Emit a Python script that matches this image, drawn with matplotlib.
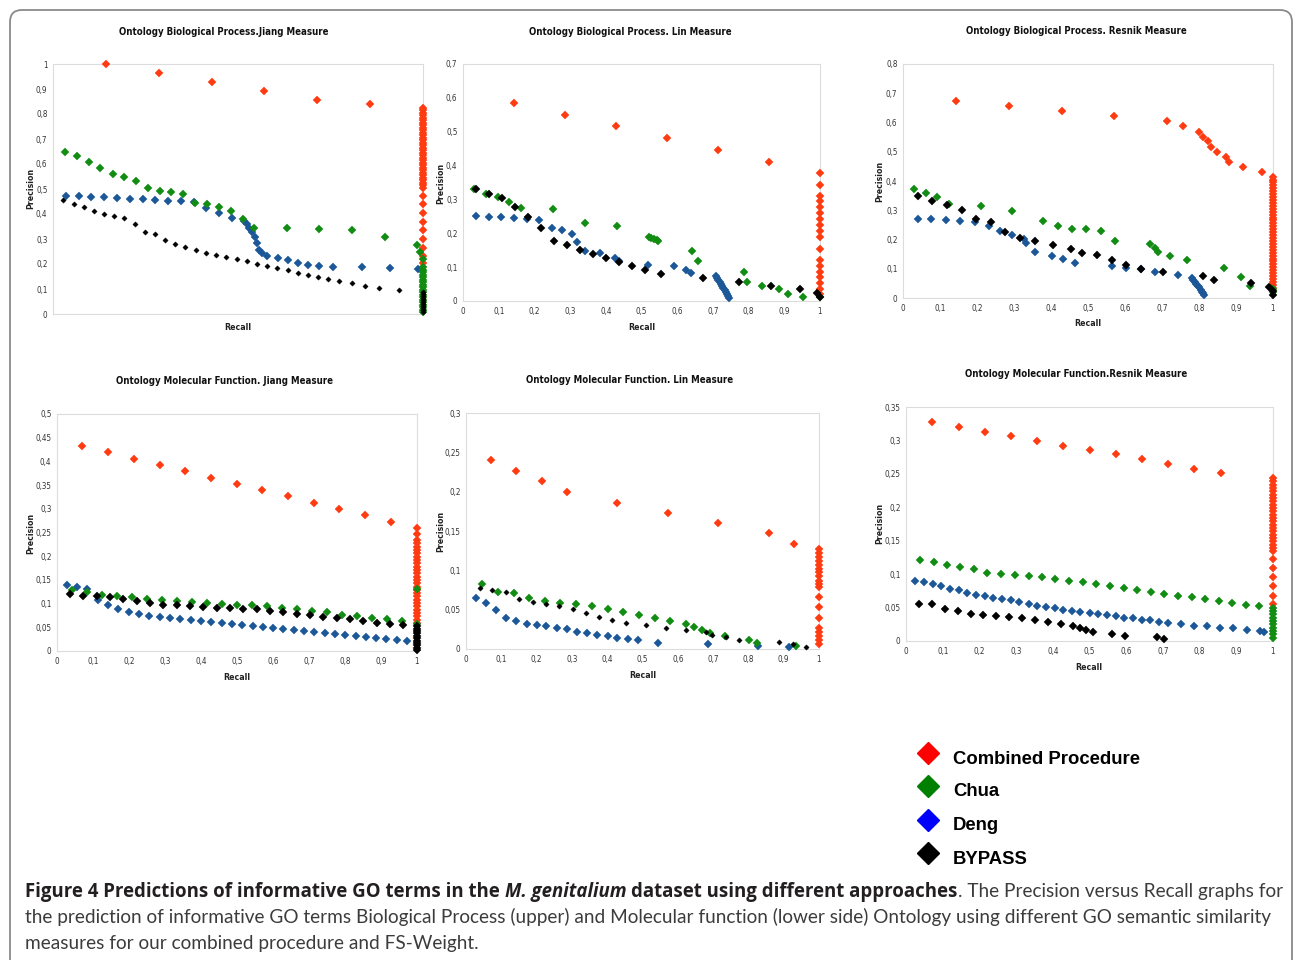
import matplotlib
matplotlib.use("Agg")
import matplotlib.pyplot as plt
import numpy as np
from matplotlib import font_manager as fm
from matplotlib.patches import FancyBboxPatch
from matplotlib.transforms import IdentityTransform
from matplotlib.ticker import FuncFormatter
from matplotlib.font_manager import FontProperties

# ---------------- DATA ----------------
# Biological Process - Jiang
bpj_comb_r = [0.143, 0.287, 0.429, 0.571, 0.714, 0.857]
bpj_comb_p = [1.000, 0.964, 0.928, 0.893, 0.858, 0.841]
bpj_comb_col = [0.825, 0.815, 0.805, 0.795, 0.785, 0.775, 0.765, 0.755, 0.745, 0.735, 0.725, 0.715,
                0.705, 0.695, 0.685, 0.675, 0.665, 0.655, 0.645, 0.635, 0.625, 0.615, 0.605, 0.595,
                0.585, 0.575, 0.565, 0.555, 0.545, 0.535, 0.525, 0.515, 0.505, 0.473, 0.440, 0.405,
                0.370, 0.335, 0.300, 0.265, 0.232, 0.205]
bpj_chua_r = [0.032, 0.064, 0.097, 0.128, 0.161, 0.192, 0.225, 0.256, 0.288, 0.320, 0.352, 0.384,
              0.416, 0.448, 0.480, 0.513, 0.544, 0.632, 0.720, 0.808, 0.896, 0.983, 0.993]
bpj_chua_p = [0.647, 0.634, 0.608, 0.584, 0.559, 0.548, 0.531, 0.504, 0.493, 0.487, 0.481, 0.445,
              0.441, 0.429, 0.414, 0.380, 0.346, 0.344, 0.341, 0.338, 0.307, 0.278, 0.249]
bpj_chua_col = [0.219, 0.188, 0.178, 0.168, 0.158, 0.148, 0.138, 0.128, 0.118, 0.108, 0.098, 0.088,
                0.078, 0.068, 0.058, 0.048, 0.038, 0.028, 0.018, 0.010]
bpj_deng_r = [0.035, 0.069, 0.104, 0.139, 0.173, 0.208, 0.242, 0.276, 0.311, 0.346, 0.380, 0.414,
              0.449, 0.483, 0.516, 0.523, 0.531, 0.538, 0.545, 0.552, 0.558, 0.565, 0.579, 0.607,
              0.634, 0.662, 0.690, 0.718, 0.758, 0.834, 0.910, 0.986]
bpj_deng_p = [0.473, 0.471, 0.468, 0.467, 0.464, 0.461, 0.459, 0.456, 0.453, 0.451, 0.448, 0.425,
              0.406, 0.386, 0.372, 0.360, 0.346, 0.330, 0.309, 0.285, 0.258, 0.246, 0.233, 0.225,
              0.215, 0.206, 0.195, 0.191, 0.190, 0.187, 0.184, 0.182]
bpj_deng_col = []
bpj_byp_r = [0.028, 0.056, 0.083, 0.111, 0.138, 0.166, 0.193, 0.221, 0.248, 0.276, 0.303, 0.331,
             0.358, 0.386, 0.413, 0.441, 0.468, 0.496, 0.523, 0.551, 0.579, 0.606, 0.634, 0.662,
             0.689, 0.717, 0.744, 0.772, 0.807, 0.844, 0.881, 0.936]
bpj_byp_p = [0.455, 0.441, 0.428, 0.413, 0.400, 0.393, 0.386, 0.361, 0.329, 0.320, 0.298, 0.282,
             0.269, 0.258, 0.246, 0.237, 0.227, 0.219, 0.211, 0.202, 0.193, 0.183, 0.175, 0.166,
             0.156, 0.148, 0.139, 0.131, 0.123, 0.114, 0.106, 0.096]
bpj_byp_col = [0.090, 0.082, 0.074, 0.066, 0.058, 0.050, 0.042, 0.034, 0.026, 0.018, 0.010]

# Biological Process - Lin
bpl_comb_r = [0.143, 0.286, 0.429, 0.572, 0.715, 0.858]
bpl_comb_p = [0.585, 0.550, 0.516, 0.481, 0.447, 0.412]
bpl_comb_col = [0.378, 0.343, 0.310, 0.294, 0.277, 0.260, 0.242, 0.225, 0.207, 0.188, 0.154, 0.121,
                0.104, 0.087, 0.070, 0.052, 0.035, 0.020]
bpl_chua_r = [0.032, 0.064, 0.097, 0.130, 0.163, 0.252, 0.341, 0.431, 0.521, 0.528, 0.536, 0.543,
              0.547, 0.642, 0.659, 0.788, 0.796, 0.837, 0.886, 0.910, 0.951]
bpl_chua_p = [0.330, 0.315, 0.308, 0.291, 0.276, 0.273, 0.229, 0.222, 0.188, 0.186, 0.184, 0.181,
              0.178, 0.149, 0.118, 0.086, 0.055, 0.044, 0.034, 0.021, 0.011]
bpl_chua_col = [0.012]
bpl_deng_r = [0.036, 0.072, 0.107, 0.143, 0.179, 0.212, 0.249, 0.277, 0.306, 0.320, 0.341, 0.383,
              0.427, 0.437, 0.519, 0.590, 0.624, 0.640, 0.708, 0.712, 0.715, 0.719, 0.722, 0.726,
              0.729, 0.733, 0.736, 0.740, 0.743, 0.746]
bpl_deng_p = [0.252, 0.249, 0.247, 0.245, 0.242, 0.240, 0.216, 0.211, 0.199, 0.175, 0.148, 0.143,
              0.128, 0.117, 0.107, 0.103, 0.093, 0.083, 0.074, 0.068, 0.062, 0.056, 0.051, 0.045,
              0.039, 0.033, 0.027, 0.021, 0.016, 0.010]
bpl_deng_col = []
bpl_byp_r = [0.036, 0.072, 0.109, 0.146, 0.182, 0.219, 0.255, 0.291, 0.328, 0.364, 0.401, 0.438,
             0.473, 0.509, 0.555, 0.673, 0.773, 0.864, 0.945, 0.991]
bpl_byp_p = [0.332, 0.317, 0.303, 0.277, 0.247, 0.216, 0.178, 0.164, 0.152, 0.139, 0.127, 0.115,
             0.104, 0.092, 0.081, 0.069, 0.057, 0.045, 0.034, 0.023]
bpl_byp_col = [0.013]

# Biological Process - Resnik
bpr_comb_r = [0.143, 0.286, 0.429, 0.571, 0.714, 0.757, 0.800, 0.812, 0.824, 0.833, 0.850, 0.873,
              0.882, 0.919, 0.969]
bpr_comb_p = [0.673, 0.655, 0.638, 0.621, 0.604, 0.587, 0.569, 0.552, 0.536, 0.517, 0.500, 0.483,
              0.466, 0.449, 0.431]
bpr_comb_col = [0.415, 0.405, 0.395, 0.385, 0.375, 0.365, 0.355, 0.345, 0.335, 0.325, 0.315, 0.305,
                0.295, 0.285, 0.275, 0.265, 0.255, 0.245, 0.235, 0.225, 0.215, 0.205, 0.195, 0.185,
                0.175, 0.165, 0.155, 0.145, 0.135, 0.125, 0.115, 0.105, 0.095, 0.085, 0.075, 0.065,
                0.055, 0.045, 0.035]
bpr_chua_r = [0.031, 0.062, 0.093, 0.124, 0.210, 0.295, 0.379, 0.418, 0.457, 0.495, 0.534, 0.574,
              0.667, 0.681, 0.689, 0.721, 0.768, 0.868, 0.914, 0.937]
bpr_chua_p = [0.373, 0.360, 0.346, 0.323, 0.315, 0.297, 0.263, 0.247, 0.236, 0.235, 0.228, 0.196,
              0.183, 0.170, 0.157, 0.144, 0.130, 0.101, 0.072, 0.042]
bpr_chua_col = [0.030, 0.020]
bpr_deng_r = [0.040, 0.077, 0.116, 0.155, 0.194, 0.232, 0.263, 0.295, 0.326, 0.333, 0.357, 0.403,
              0.433, 0.466, 0.566, 0.604, 0.643, 0.682, 0.744, 0.781, 0.785, 0.789, 0.793, 0.797,
              0.801, 0.805, 0.809, 0.812, 0.814]
bpr_deng_p = [0.271, 0.269, 0.266, 0.263, 0.260, 0.247, 0.228, 0.215, 0.202, 0.189, 0.156, 0.145,
              0.134, 0.119, 0.111, 0.103, 0.098, 0.088, 0.077, 0.067, 0.061, 0.054, 0.048, 0.042,
              0.036, 0.029, 0.022, 0.016, 0.011]
bpr_deng_col = []
bpr_byp_r = [0.040, 0.079, 0.119, 0.159, 0.198, 0.238, 0.277, 0.316, 0.356, 0.405, 0.455, 0.485,
             0.524, 0.564, 0.604, 0.643, 0.703, 0.812, 0.841, 0.941, 0.990]
bpr_byp_p = [0.349, 0.333, 0.317, 0.301, 0.270, 0.260, 0.225, 0.206, 0.194, 0.180, 0.169, 0.155,
             0.146, 0.130, 0.114, 0.100, 0.088, 0.075, 0.063, 0.050, 0.039]
bpr_byp_col = [0.025, 0.011]

# Molecular Function - Jiang
mfj_comb_r = [0.070, 0.143, 0.213, 0.285, 0.356, 0.428, 0.499, 0.570, 0.642, 0.713, 0.784, 0.856, 0.927]
mfj_comb_p = [0.432, 0.419, 0.406, 0.393, 0.380, 0.366, 0.352, 0.340, 0.326, 0.313, 0.300, 0.286, 0.273]
mfj_comb_col = [0.260, 0.246, 0.234, 0.227, 0.220, 0.213, 0.206, 0.199, 0.192, 0.185, 0.178, 0.171,
                0.164, 0.157, 0.150, 0.143, 0.136, 0.129, 0.122, 0.115, 0.108, 0.101, 0.094, 0.087,
                0.080, 0.073, 0.066, 0.059]
mfj_chua_r = [0.043, 0.083, 0.124, 0.167, 0.208, 0.249, 0.292, 0.332, 0.375, 0.416, 0.457, 0.500,
              0.542, 0.582, 0.624, 0.666, 0.707, 0.749, 0.791, 0.832, 0.874, 0.916, 0.958]
mfj_chua_p = [0.128, 0.124, 0.119, 0.117, 0.114, 0.110, 0.108, 0.105, 0.104, 0.102, 0.100, 0.098,
              0.096, 0.094, 0.091, 0.088, 0.085, 0.082, 0.077, 0.073, 0.070, 0.067, 0.063]
mfj_chua_col = [0.130, 0.058]
mfj_deng_r = [0.028, 0.056, 0.084, 0.113, 0.142, 0.170, 0.199, 0.228, 0.256, 0.285, 0.314, 0.343,
              0.371, 0.400, 0.429, 0.457, 0.486, 0.515, 0.544, 0.572, 0.600, 0.629, 0.657, 0.686,
              0.715, 0.744, 0.772, 0.801, 0.830, 0.858, 0.887, 0.915, 0.944, 0.972]
mfj_deng_p = [0.139, 0.136, 0.131, 0.108, 0.098, 0.088, 0.083, 0.079, 0.074, 0.072, 0.070, 0.068,
              0.066, 0.064, 0.061, 0.059, 0.057, 0.055, 0.053, 0.051, 0.049, 0.046, 0.044, 0.042,
              0.040, 0.037, 0.035, 0.033, 0.031, 0.029, 0.027, 0.025, 0.023, 0.021]
mfj_deng_col = []
mfj_byp_r = [0.037, 0.073, 0.110, 0.147, 0.184, 0.221, 0.258, 0.295, 0.332, 0.369, 0.406, 0.444,
             0.481, 0.518, 0.555, 0.592, 0.629, 0.666, 0.703, 0.740, 0.777, 0.814, 0.851, 0.888,
             0.925, 0.962]
mfj_byp_p = [0.120, 0.117, 0.115, 0.113, 0.109, 0.105, 0.101, 0.098, 0.096, 0.094, 0.092, 0.091,
             0.091, 0.089, 0.088, 0.085, 0.082, 0.079, 0.075, 0.072, 0.070, 0.067, 0.063, 0.060,
             0.058, 0.055]
mfj_byp_col = [0.052, 0.047, 0.042, 0.037, 0.032, 0.027, 0.022, 0.017, 0.012, 0.007, 0.003]

# Molecular Function - Lin
mfl_comb_r = [0.072, 0.143, 0.215, 0.286, 0.429, 0.572, 0.715, 0.858, 0.929]
mfl_comb_p = [0.240, 0.226, 0.213, 0.200, 0.186, 0.173, 0.160, 0.147, 0.134]
mfl_comb_col = [0.127, 0.122, 0.117, 0.112, 0.107, 0.102, 0.098, 0.093, 0.087, 0.083, 0.079, 0.066,
                0.053, 0.040, 0.027, 0.022, 0.017, 0.012, 0.006]
mfl_chua_r = [0.044, 0.090, 0.135, 0.178, 0.223, 0.267, 0.311, 0.357, 0.401, 0.445, 0.490, 0.534,
              0.578, 0.623, 0.645, 0.668, 0.690, 0.734, 0.801, 0.824, 0.935]
mfl_chua_p = [0.082, 0.072, 0.071, 0.065, 0.061, 0.059, 0.057, 0.055, 0.051, 0.047, 0.043, 0.039,
              0.035, 0.032, 0.028, 0.024, 0.020, 0.016, 0.012, 0.008, 0.004]
mfl_chua_col = []
mfl_deng_r = [0.029, 0.058, 0.086, 0.114, 0.143, 0.173, 0.201, 0.228, 0.257, 0.285, 0.314, 0.343,
              0.372, 0.401, 0.429, 0.458, 0.486, 0.543, 0.686, 0.828, 0.914]
mfl_deng_p = [0.065, 0.059, 0.049, 0.039, 0.035, 0.032, 0.030, 0.029, 0.027, 0.025, 0.022, 0.020,
              0.018, 0.016, 0.014, 0.013, 0.011, 0.008, 0.006, 0.004, 0.002]
mfl_deng_col = []
mfl_byp_r = [0.039, 0.075, 0.113, 0.151, 0.189, 0.226, 0.264, 0.302, 0.340, 0.377, 0.415, 0.453,
             0.509, 0.566, 0.623, 0.679, 0.698, 0.736, 0.774, 0.887, 0.925, 0.962]
mfl_byp_p = [0.078, 0.075, 0.072, 0.063, 0.060, 0.057, 0.055, 0.051, 0.046, 0.041, 0.037, 0.033,
             0.030, 0.027, 0.024, 0.021, 0.018, 0.015, 0.012, 0.009, 0.006, 0.003]
mfl_byp_col = []

# Molecular Function - Resnik
mfr_comb_r = [0.072, 0.144, 0.215, 0.287, 0.358, 0.429, 0.500, 0.572, 0.643, 0.715, 0.786, 0.858]
mfr_comb_p = [0.327, 0.320, 0.313, 0.306, 0.299, 0.292, 0.286, 0.279, 0.272, 0.265, 0.258, 0.251]
mfr_comb_col = [0.244, 0.239, 0.234, 0.229, 0.224, 0.219, 0.214, 0.209, 0.204, 0.199, 0.194, 0.189,
                0.184, 0.179, 0.174, 0.169, 0.164, 0.159, 0.154, 0.149, 0.144, 0.139, 0.134, 0.122,
                0.109, 0.095, 0.082, 0.068, 0.055]
mfr_chua_r = [0.038, 0.075, 0.112, 0.148, 0.185, 0.222, 0.259, 0.296, 0.334, 0.370, 0.407, 0.445,
              0.482, 0.519, 0.555, 0.593, 0.630, 0.667, 0.704, 0.741, 0.778, 0.815, 0.852, 0.889,
              0.926, 0.963]
mfr_chua_p = [0.121, 0.118, 0.114, 0.111, 0.108, 0.101, 0.100, 0.099, 0.097, 0.096, 0.093, 0.090,
              0.088, 0.085, 0.082, 0.079, 0.076, 0.074, 0.071, 0.068, 0.066, 0.063, 0.060, 0.057,
              0.054, 0.052]
mfr_chua_col = [0.050, 0.045, 0.040, 0.035, 0.030, 0.025, 0.020, 0.015, 0.010, 0.005]
mfr_deng_r = [0.025, 0.049, 0.073, 0.096, 0.120, 0.144, 0.167, 0.191, 0.215, 0.238, 0.262, 0.285,
              0.309, 0.334, 0.357, 0.381, 0.405, 0.428, 0.452, 0.475, 0.500, 0.524, 0.547, 0.571,
              0.595, 0.618, 0.642, 0.665, 0.689, 0.713, 0.750, 0.785, 0.821, 0.856, 0.892, 0.928,
              0.964, 0.976]
mfr_deng_p = [0.089, 0.088, 0.086, 0.082, 0.078, 0.076, 0.072, 0.069, 0.068, 0.065, 0.063, 0.061,
              0.058, 0.056, 0.053, 0.051, 0.049, 0.047, 0.045, 0.044, 0.042, 0.040, 0.039, 0.037,
              0.035, 0.034, 0.032, 0.031, 0.029, 0.027, 0.025, 0.023, 0.022, 0.020, 0.019, 0.017,
              0.015, 0.014]
mfr_deng_col = []
mfr_byp_r = [0.036, 0.071, 0.106, 0.141, 0.176, 0.211, 0.246, 0.281, 0.316, 0.351, 0.386, 0.421,
             0.456, 0.474, 0.491, 0.509, 0.562, 0.597, 0.684, 0.702]
mfr_byp_p = [0.056, 0.055, 0.048, 0.045, 0.041, 0.039, 0.038, 0.036, 0.034, 0.031, 0.028, 0.025,
             0.022, 0.020, 0.017, 0.014, 0.011, 0.008, 0.006, 0.003]
mfr_byp_col = []

series_names = ["Combined Procedure", "Chua", "Deng", "BYPASS"]
titles = ["Ontology Biological Process.Jiang Measure", "Ontology Biological Process. Lin Measure",
          "Ontology Biological Process. Resnik Measure", "Ontology Molecular Function. Jiang Measure",
          "Ontology Molecular Function. Lin Measure", "Ontology Molecular Function.Resnik Measure"]
caption_bold1 = "Figure 4 Predictions of informative GO terms in the"
caption_ital = "M. genitalium"
caption_bold2 = "dataset using different approaches"
caption_rest1 = ". The Precision versus Recall graphs for"
caption_line2 = ("the prediction of informative GO terms Biological Process (upper) and Molecular function "
                 "(lower side) Ontology using different GO semantic similarity")
caption_line3 = "measures for our combined procedure and FS-Weight."

# ---------------- STYLE / LAYOUT ----------------
W, H = 1293, 960
names = {f.name for f in fm.fontManager.ttflist}
CAPF = "Lato" if "Lato" in names else "DejaVu Sans"
CAPB = "Open Sans" if "Open Sans" in names else CAPF


def find_font(keys):
    for key in keys:
        for f in fm.fontManager.ttflist:
            if f.fname.split("/")[-1].lower() == key.lower():
                return f.fname
    return None


nb = find_font(["LiberationSansNarrow-Bold.ttf", "DejaVuSansCondensed-Bold.ttf"])
nr = find_font(["LiberationSansNarrow-Regular.ttf", "DejaVuSansCondensed.ttf"])
narrow_lib = bool(nb) and "Liberation" in nb
if nb:
    def NB(size):
        return FontProperties(fname=nb, size=size)
else:
    def NB(size):
        return FontProperties(family="Liberation Sans", weight="bold", size=size)
title_size = 8.0 if narrow_lib else 6.9
label_size = 7.0 if narrow_lib else 6.3
if nr:
    def NR(size):
        return FontProperties(fname=nr, size=size)
else:
    def NR(size):
        return FontProperties(family="Liberation Sans", size=size)

plot_colors = ["#ff3b12", "#128c12", "#1c5797", "#000000"]
legend_colors = ["#ff0000", "#008000", "#0000ff", "#000000"]

fig = plt.figure(figsize=(W / 100, H / 100), dpi=100)
fig.patch.set_facecolor("white")


def px_ax(l, t, r, b):
    return fig.add_axes([l / W, 1 - b / H, (r - l) / W, (b - t) / H])


def ftext(x, y, s, **kw):
    return fig.text(x / W, 1 - y / H, s, **kw)


comma = FuncFormatter(lambda v, _: ("%g" % round(v, 3)).replace(".", ","))

panels = [
    dict(rect=(53, 64, 423, 314), ymax=1.0, step=0.1, xlab=False, title_xy=(224, 32), prec_xy=(31, 188), rec_xy=(238, 328),
         data=[(bpj_comb_r, bpj_comb_p, bpj_comb_col), (bpj_deng_r, bpj_deng_p, bpj_deng_col),
               (bpj_chua_r, bpj_chua_p, bpj_chua_col), (bpj_byp_r, bpj_byp_p, bpj_byp_col)], small_black=True),
    dict(rect=(463, 64, 820, 301), ymax=0.7, step=0.1, xlab=True, title_xy=(630, 32), prec_xy=(441, 183), rec_xy=(642, 327),
         data=[(bpl_comb_r, bpl_comb_p, bpl_comb_col), (bpl_deng_r, bpl_deng_p, bpl_deng_col),
               (bpl_chua_r, bpl_chua_p, bpl_chua_col), (bpl_byp_r, bpl_byp_p, bpl_byp_col)], small_black=False),
    dict(rect=(903, 64, 1273, 298), ymax=0.8, step=0.1, xlab=True, title_xy=(1076, 31), prec_xy=(880, 181), rec_xy=(1088, 324),
         data=[(bpr_comb_r, bpr_comb_p, bpr_comb_col), (bpr_deng_r, bpr_deng_p, bpr_deng_col),
               (bpr_chua_r, bpr_chua_p, bpr_chua_col), (bpr_byp_r, bpr_byp_p, bpr_byp_col)], small_black=False),
    dict(rect=(57, 414, 417, 651), ymax=0.5, step=0.05, xlab=True, title_xy=(224, 381), prec_xy=(31, 533), rec_xy=(237, 678),
         data=[(mfj_comb_r, mfj_comb_p, mfj_comb_col), (mfj_deng_r, mfj_deng_p, mfj_deng_col),
               (mfj_chua_r, mfj_chua_p, mfj_chua_col), (mfj_byp_r, mfj_byp_p, mfj_byp_col)], small_black=False),
    dict(rect=(466, 413, 819, 649), ymax=0.3, step=0.05, xlab=True, title_xy=(630, 380), prec_xy=(441, 531), rec_xy=(643, 675),
         data=[(mfl_comb_r, mfl_comb_p, mfl_comb_col), (mfl_deng_r, mfl_deng_p, mfl_deng_col),
               (mfl_chua_r, mfl_chua_p, mfl_chua_col), (mfl_byp_r, mfl_byp_p, mfl_byp_col)], small_black=True),
    dict(rect=(906, 407, 1273, 641), ymax=0.35, step=0.05, xlab=True, title_xy=(1076, 374), prec_xy=(880, 523), rec_xy=(1089, 667),
         data=[(mfr_comb_r, mfr_comb_p, mfr_comb_col), (mfr_deng_r, mfr_deng_p, mfr_deng_col),
               (mfr_chua_r, mfr_chua_p, mfr_chua_col), (mfr_byp_r, mfr_byp_p, mfr_byp_col)], small_black=False),
]
# drawing order: red, blue, green, black
order_colors = [plot_colors[0], plot_colors[2], plot_colors[1], plot_colors[3]]

for i, pn in enumerate(panels):
    ax = px_ax(*pn["rect"])
    for k, (r, p, col) in enumerate(pn["data"]):
        rr = list(r) + [1.0] * len(col)
        pp = list(p) + list(col)
        ms = 4.2
        if k == 3 and pn["small_black"]:
            ms = 2.7
        ax.plot(rr, pp, linestyle="none", marker="D", ms=ms, color=order_colors[k],
                mec=order_colors[k], mew=0.3, clip_on=False, zorder=3 + k)
    ax.set_xlim(0, 1)
    ax.set_ylim(0, pn["ymax"])
    ax.set_yticks(np.round(np.arange(0, pn["ymax"] + 1e-9, pn["step"]), 3))
    ax.set_xticks(np.round(np.arange(0, 1.0001, 0.1), 2))
    ax.yaxis.set_major_formatter(comma)
    ax.xaxis.set_major_formatter(comma)
    ax.tick_params(length=0, labelcolor="#333333", pad=4)
    for lab in ax.get_xticklabels() + ax.get_yticklabels():
        lab.set_fontproperties(NR(5.8 * (1.0 if nr else 0.95)))
    if not pn["xlab"]:
        ax.set_xticklabels([])
    for s in ax.spines.values():
        s.set_color("#dcdcdc")
        s.set_linewidth(0.8)
    ftext(*pn["title_xy"], titles[i], ha="center", va="center", fontproperties=NB(title_size),
          color="#111111")
    ftext(*pn["prec_xy"], "Precision", ha="center", va="center", rotation=90,
          fontproperties=NB(label_size), color="#222222")
    ftext(*pn["rec_xy"], "Recall", ha="center", va="center", fontproperties=NB(label_size),
          color="#222222")

# legend
leg_y = [759, 792, 826, 859]
for name, c, y in zip(series_names, legend_colors, leg_y):
    fig.lines.append(plt.Line2D([928 / W], [1 - (y - 6) / H], transform=fig.transFigure, marker="D",
                                ms=11, color=c, linestyle="none"))
    ftext(953, y, name, ha="left", va="center", fontsize=13.3, fontweight="bold",
          family="Liberation Sans", color="black")

# border
border = FancyBboxPatch((10, -30), 1282, 980, boxstyle="round,pad=0,rounding_size=12",
                        transform=IdentityTransform(), fill=False, edgecolor="#8a8a8a", linewidth=1.3)
fig.add_artist(border)

# caption
fig.canvas.draw()
rend = fig.canvas.get_renderer()


def width_of(s, **kw):
    t = ftext(0, 0, s, **kw)
    w = t.get_window_extent(renderer=rend).width
    t.remove()
    return w


cap_size = 12 * 1243 / width_of(caption_line2, fontsize=12, family=CAPF)
bold_target = 927.0
bsize = 12.0
bw = (width_of(caption_bold1 + " " + caption_bold2, fontsize=bsize, family=CAPB, fontweight="bold")
      + width_of(caption_ital, fontsize=bsize, family=CAPB, fontweight="bold", style="italic")
      + width_of("a a", fontsize=bsize, family=CAPB, fontweight="bold")
      - width_of("aa", fontsize=bsize, family=CAPB, fontweight="bold"))
bsize = bsize * bold_target / bw

bold_kw = dict(fontsize=bsize, family=CAPB, fontweight="bold", color="#231f20", va="baseline")
ital_kw = dict(fontsize=bsize, family=CAPB, fontweight="bold", style="italic", color="#231f20", va="baseline")
reg_kw = dict(fontsize=cap_size, family=CAPF, color="#3c3c3c", va="baseline")
sp = (width_of("a a", fontsize=bsize, family=CAPB, fontweight="bold")
      - width_of("aa", fontsize=bsize, family=CAPB, fontweight="bold"))
x = 25
y1 = 897
for txt, kw, gap in [(caption_bold1, bold_kw, sp), (caption_ital, ital_kw, sp),
                     (caption_bold2, bold_kw, 0), (caption_rest1, reg_kw, 0)]:
    t = ftext(x, y1, txt, **kw)
    bb = t.get_window_extent(renderer=rend)
    x = bb.x1 + gap
ftext(25, 923, caption_line2, **reg_kw)
ftext(25, 949, caption_line3, **reg_kw)

fig.savefig("out.png", dpi=100, facecolor="white")
